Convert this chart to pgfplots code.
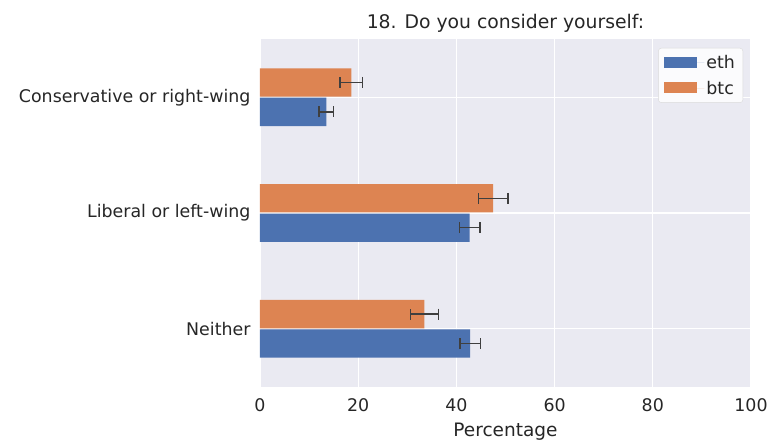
\documentclass[border=0pt]{standalone}
\usepackage{fontspec}
\setmainfont{DejaVu Sans}
\usepackage{pgfplots}
\pgfplotsset{compat=1.18}
\usepackage{pgfplotstable}
\definecolor{bgc}{HTML}{EAEAF2}
\definecolor{ethc}{HTML}{4C72B0}
\definecolor{btcc}{HTML}{DD8452}
\definecolor{txtc}{HTML}{262626}
\definecolor{errc}{HTML}{3F3F3F}
\definecolor{legbg}{HTML}{FBFBFD}
\pgfplotstableread{
y x err
0 42.8 2.1
1 42.7 2.1
2 13.5 1.5
}\eth
\pgfplotstableread{
y x err
0 33.5 2.8
1 47.5 3.0
2 18.6 2.3
}\btc
\begin{document}
\begin{tikzpicture}
\begin{axis}[
  scale only axis,
  width=491pt, height=347.4pt,
  xmin=0, xmax=100, ymin=-0.5, ymax=2.5,
  xtick={0,20,40,60,80,100},
  ytick={0,1,2},
  yticklabels={Neither, Liberal or left-wing, Conservative or right-wing},
  axis background/.style={fill=bgc},
  axis line style={draw=none},
  major tick length=0pt,
  grid=major,
  major grid style={white, line width=1.2pt},
  font=\fontsize{17.4}{20}\selectfont,
  every tick label/.append style={text=txtc, font=\fontsize{17.4}{20}\selectfont},
  /pgf/number format/assume math mode=true,
  xticklabel style={yshift=-8pt},
  yticklabel style={xshift=-6pt},
  xlabel={Percentage},
  xlabel style={text=txtc, font=\fontsize{18.5}{21}\selectfont, yshift=-5pt},
  title={18. Do you consider yourself:},
  title style={text=txtc, font=\fontsize{18.8}{21}\selectfont, yshift=-3pt},
  xbar, bar width=0.245,
  legend style={at={(0.984,0.975)}, anchor=north east, fill=legbg, draw=black!15, rounded corners=3pt, font=\fontsize{17.4}{20}\selectfont, text=txtc, row sep=7pt, inner xsep=6pt, inner ysep=5pt},
  legend image code/.code={\fill[#1, sharp corners] (0pt,-5pt) rectangle (33pt,6pt); \path (0pt,0pt) -- (40pt,0pt);},
  legend cell align=left,
]
\addplot[fill=ethc, draw=none, bar shift=-0.127,
  error bars/.cd, x dir=both, x explicit,
  error bar style={errc, line width=1.4pt},
  error mark options={rotate=90, errc, mark size=5.5pt, line width=1.4pt}]
  table[x=x, y=y, x error=err] {\eth};
\addlegendentry{eth}
\addplot[fill=btcc, draw=none, bar shift=0.127,
  error bars/.cd, x dir=both, x explicit,
  error bar style={errc, line width=1.4pt},
  error mark options={rotate=90, errc, mark size=5.5pt, line width=1.4pt}]
  table[x=x, y=y, x error=err] {\btc};
\addlegendentry{btc}
\end{axis}
\pgfresetboundingbox
\path (current axis.south west) ++(-260pt,-55.3pt) rectangle ++(772pt,442pt);
\end{tikzpicture}
\end{document}
